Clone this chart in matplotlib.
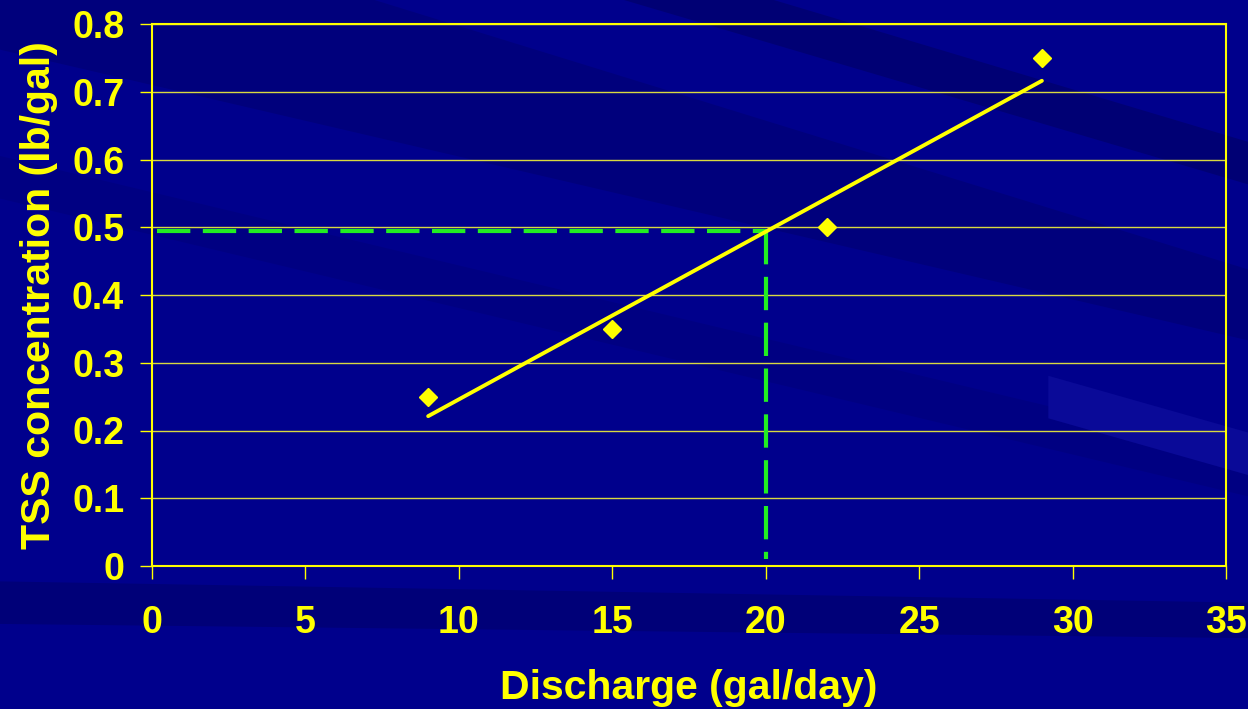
import numpy as np
import matplotlib
matplotlib.use("Agg")
import matplotlib.pyplot as plt
from matplotlib.patches import Polygon

discharge = [9, 15, 22, 29]
tss = [0.25, 0.35, 0.50, 0.75]
x_ticks = [0, 5, 10, 15, 20, 25, 30, 35]
y_ticks = [0, 0.1, 0.2, 0.3, 0.4, 0.5, 0.6, 0.7, 0.8]
y_tick_labels = ["0", "0.1", "0.2", "0.3", "0.4", "0.5", "0.6", "0.7", "0.8"]
read_x = 20
read_y = 0.495

BG = "#00008c"
YEL = "#ffff00"
GRN = "#22ee22"

plt.rcParams['font.family'] = ['Liberation Sans', 'DejaVu Sans']
fig = plt.figure(figsize=(12.48, 7.09), dpi=100)
fig.patch.set_facecolor(BG)

# subtle background diagonal streaks (figure coords)
streaks = [
    ([(0, 1.0), (0.30, 1.0), (1.0, 0.62), (1.0, 0.52), (0, 0.93)], "#00007c"),
    ([(0.50, 1.0), (0.62, 1.0), (1.0, 0.80), (1.0, 0.74)], "#000074"),
    ([(0, 0.78), (0, 0.72), (1.0, 0.30), (1.0, 0.36)], "#000082"),
    ([(0, 0.18), (0, 0.12), (1.0, 0.10), (1.0, 0.15)], "#000078"),
    ([(0.84, 0.47), (0.84, 0.41), (1.0, 0.33), (1.0, 0.39)], "#0a0a98"),
]
for pts, c in streaks:
    fig.patches.append(Polygon(pts, closed=True, transform=fig.transFigure,
                               facecolor=c, edgecolor='none', zorder=-10))

ax = fig.add_axes([152/1248, 1 - 566/709, (1226-152)/1248, (566-24)/709])
ax.set_facecolor('none')
ax.set_zorder(5)
ax.set_xlim(0, 35)
ax.set_ylim(0, 0.8)

for s in ax.spines.values():
    s.set_color(YEL)
    s.set_linewidth(1.5)

ax.set_yticks(y_ticks)
ax.set_yticklabels(y_tick_labels)
ax.set_xticks(x_ticks)
ax.grid(axis='y', color='#d8d840', linewidth=1)
ax.set_axisbelow(True)
ax.tick_params(axis='x', colors=YEL, length=9, width=1, pad=19, labelsize=27)
ax.tick_params(axis='y', colors=YEL, length=9, width=1, pad=11, labelsize=27)
for lab in ax.get_xticklabels() + ax.get_yticklabels():
    lab.set_fontweight('bold')
    lab.set_color(YEL)

# green dashed reading lines
ax.plot([0.15, read_x], [read_y, read_y], color=GRN, lw=3, dashes=(8, 3), zorder=3)
ax.plot([read_x, read_x], [read_y, 0.01], color=GRN, lw=3, dashes=(8, 3), zorder=3)

# trend line
coef = np.polyfit(discharge, tss, 1)
xs = np.array([min(discharge), max(discharge)])
ax.plot(xs, np.polyval(coef, xs), color=YEL, lw=2.8, solid_capstyle='round', zorder=4)

ax.plot(discharge, tss, linestyle='none', marker='D', markersize=9.5,
        color=YEL, zorder=5)

ax.set_xlabel("Discharge (gal/day)", color=YEL, fontsize=29.5, fontweight='bold', labelpad=20)
ax.set_ylabel("TSS concentration (lb/gal)", color=YEL, fontsize=29.5, fontweight='bold', labelpad=10)

fig.savefig("out.png", dpi=100, facecolor=fig.get_facecolor())
